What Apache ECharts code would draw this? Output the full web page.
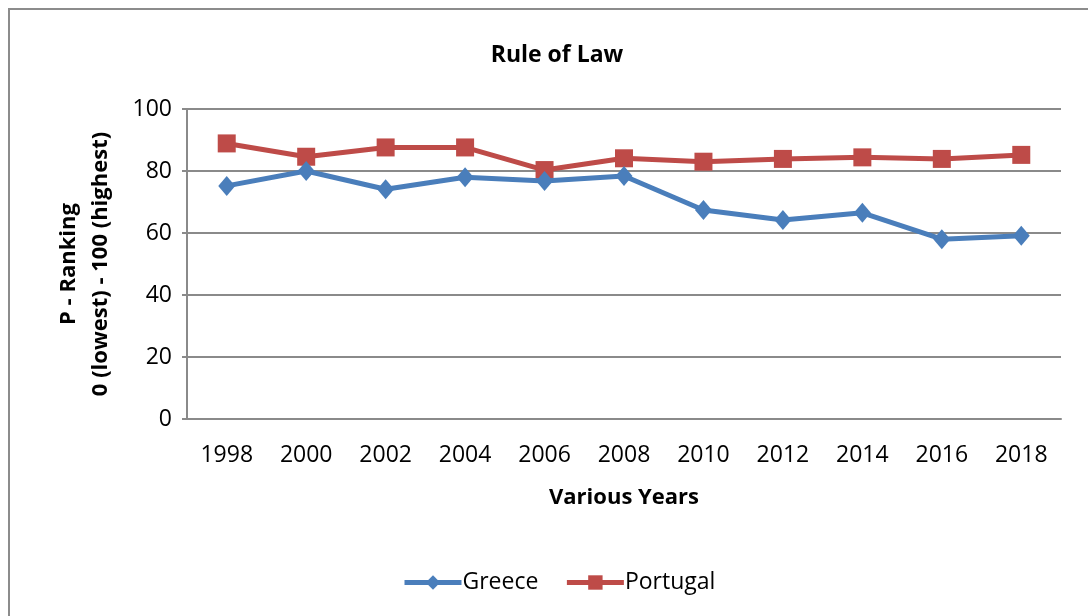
<!DOCTYPE html>
<html>
<head>
<meta charset="utf-8">
<script src="https://cdn.jsdelivr.net/npm/echarts@6/dist/echarts.min.js"></script>
<style>
  html, body { margin: 0; padding: 0; background: #fff; }
  #chart { width: 1088px; height: 616px; }
</style>
</head>
<body>
<div id="chart"></div>
<script>
// Rule of Law percentile ranking, Greece vs Portugal
const years = ['1998', '2000', '2002', '2004', '2006', '2008', '2010', '2012', '2014', '2016', '2018'];
const greece = [75.2, 80.0, 74.1, 78.0, 76.8, 78.4, 67.4, 64.2, 66.5, 58.0, 59.1];
const portugal = [88.9, 84.6, 87.6, 87.6, 80.3, 84.1, 83.0, 83.9, 84.4, 83.9, 85.2];
const yTicks = [0, 20, 40, 60, 80, 100];

const FONT = '"Open Sans", "Liberation Sans", sans-serif';
const GRID_GRAY = '#8a8a8a';

const chart = echarts.init(document.getElementById('chart'), null, { renderer: 'canvas' });

chart.setOption({
  animation: false,
  backgroundColor: '#ffffff',
  textStyle: { fontFamily: FONT },
  graphic: [{
    type: 'rect',
    shape: { x: 9, y: 9, width: 1120, height: 700 },
    style: { fill: 'none', stroke: '#8c8c8c', lineWidth: 2 },
    silent: true
  }],
  title: {
    text: 'Rule of Law',
    left: 552,
    top: 39,
    textAlign: 'center',
    textStyle: { fontFamily: FONT, fontSize: 23, fontWeight: 'bold', color: '#000' }
  },
  legend: {
    bottom: 22,
    left: 402,
    padding: 0,
    itemWidth: 57,
    itemHeight: 18,
    itemGap: 26,
    lineStyle: { width: 5 },
    textStyle: { fontFamily: FONT, fontSize: 23, color: '#000', padding: [0, 0, 0, -4] },
    data: ['Greece', 'Portugal']
  },
  grid: { left: 187, right: 27, top: 109, bottom: 197, containLabel: false },
  xAxis: {
    type: 'category',
    data: years,
    boundaryGap: true,
    name: 'Various Years',
    nameLocation: 'middle',
    nameGap: 68,
    nameTextStyle: { fontFamily: FONT, fontSize: 22, fontWeight: 'bold', color: '#000' },
    axisLine: { show: true, lineStyle: { color: GRID_GRAY, width: 2 } },
    axisTick: { show: false },
    axisLabel: { fontFamily: FONT, fontSize: 23, color: '#000', margin: 25 }
  },
  yAxis: {
    type: 'value',
    min: yTicks[0],
    max: yTicks[yTicks.length - 1],
    interval: 20,
    name: 'P - Ranking\n0 (lowest) - 100 (highest)',
    nameLocation: 'middle',
    nameGap: 70,
    nameRotate: 90,
    nameTextStyle: { fontFamily: FONT, fontSize: 22, fontWeight: 'bold', color: '#000', lineHeight: 32, align: 'center' },
    axisLine: { show: true, lineStyle: { color: GRID_GRAY, width: 2 } },
    axisTick: { show: true, length: 5, lineStyle: { color: GRID_GRAY, width: 2 } },
    axisLabel: { fontFamily: FONT, fontSize: 23, color: '#000', margin: 15 },
    splitLine: { show: true, lineStyle: { color: GRID_GRAY, width: 2 } }
  },
  series: [
    {
      name: 'Greece',
      type: 'line',
      data: greece,
      symbol: 'diamond',
      symbolSize: [17, 20],
      showAllSymbol: true,
      itemStyle: { color: '#4a7ebb' },
      lineStyle: { color: '#4a7ebb', width: 5 },
      z: 3
    },
    {
      name: 'Portugal',
      type: 'line',
      data: portugal,
      symbol: 'rect',
      symbolSize: 18,
      showAllSymbol: true,
      itemStyle: { color: '#be4b48' },
      lineStyle: { color: '#be4b48', width: 5 },
      z: 2
    }
  ]
});
</script>
</body>
</html>
